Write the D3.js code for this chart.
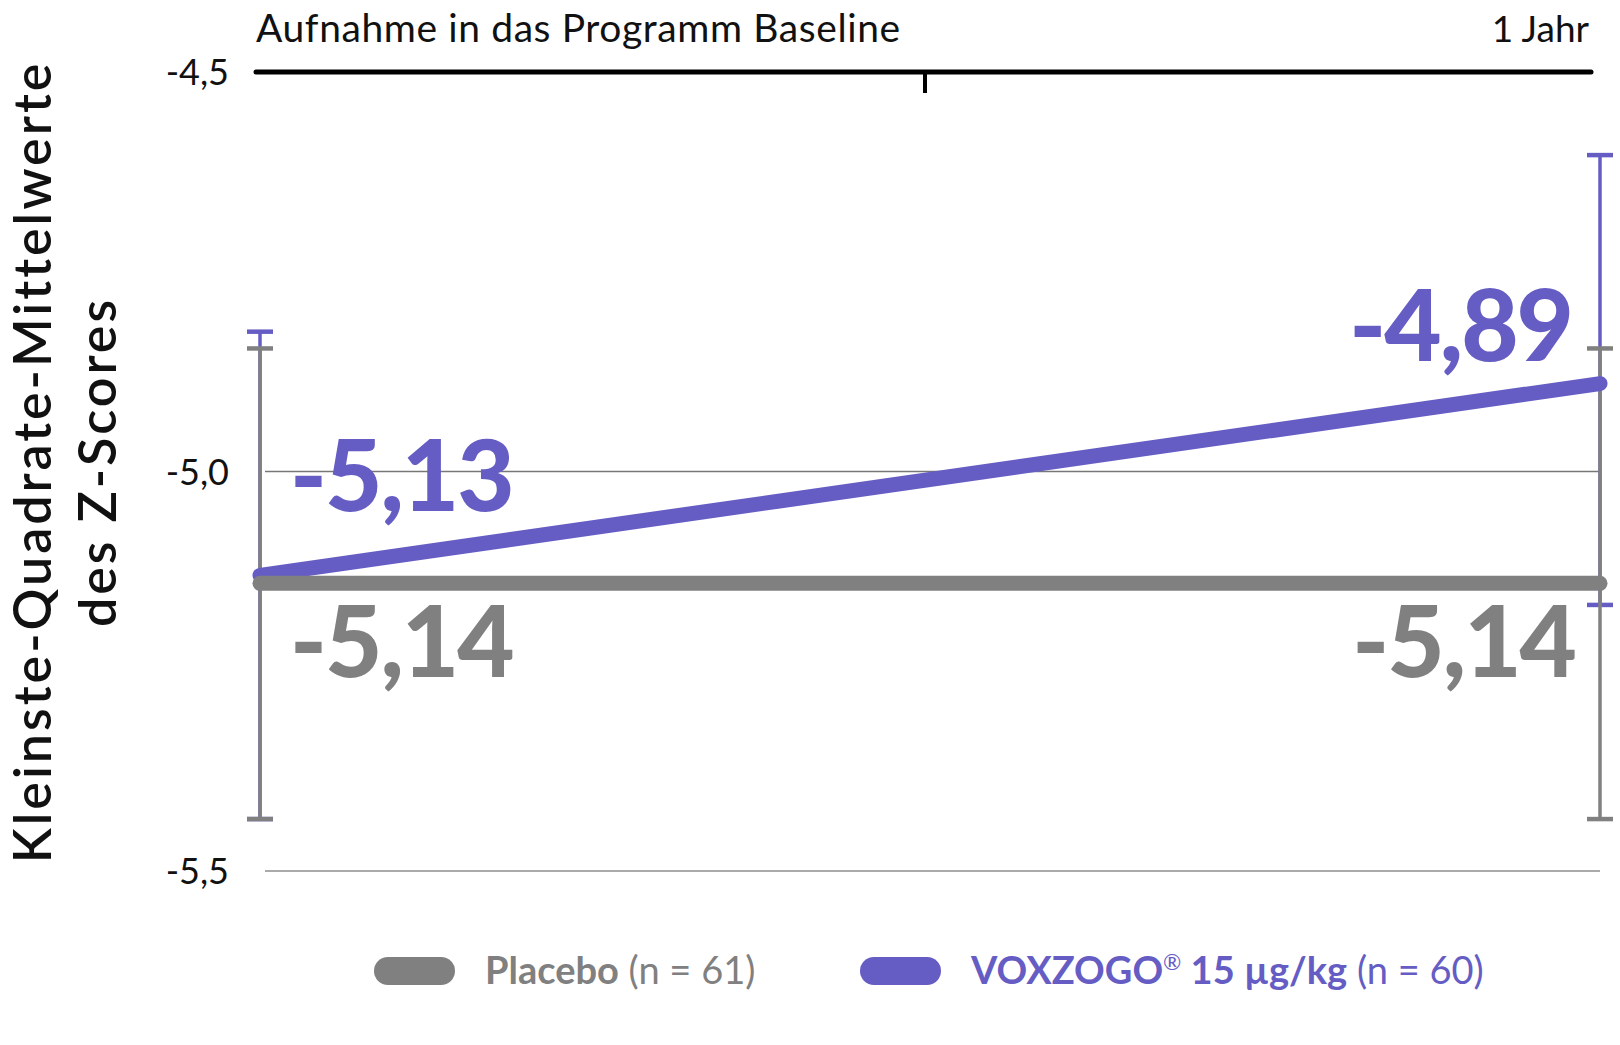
<!DOCTYPE html>
<html>
<head>
<meta charset="utf-8">
<script src="https://cdn.jsdelivr.net/npm/d3@7"></script>
<style>
  html, body { margin: 0; padding: 0; background: #fff; }
  svg text { font-family: Lato, "Open Sans", sans-serif; }
</style>
</head>
<body>
<div id="chart"></div>
<script>
// data
const timepoints = ["Aufnahme in das Programm Baseline", "1 Jahr"];
const seriesNames = ["Placebo", "VOXZOGO"];
const seriesDose = ["", " 15 µg/kg"];
const seriesN = ["(n = 61)", "(n = 60)"];
const placeboMeans = [-5.14, -5.14];
const voxzogoMeans = [-5.13, -4.89];
const placeboLow = [-5.435, -5.435];
const placeboHigh = [-4.846, -4.846];
const voxzogoLow = [-5.435, -5.167];
const voxzogoHigh = [-4.825, -4.604];
const yTicks = [-4.5, -5.0, -5.5];

const grey = "#808080";
const purple = "#655DC4";

const W = 1620, H = 1045;
const svg = d3.select("#chart").append("svg")
  .attr("width", W)
  .attr("height", H);

const x = d3.scalePoint().domain(timepoints).range([260, 1600]);
const y = d3.scaleLinear().domain([-4.5, -5.5]).range([72, 871]);
const fmt = v => d3.format(".1f")(v).replace(".", ",").replace("−", "-");
const fmt2 = v => d3.format(".2f")(v).replace(".", ",").replace("−", "-");

// y tick labels
const yAxis = d3.axisLeft(y).tickValues(yTicks).tickSize(0).tickPadding(0).tickFormat(fmt);
svg.append("g")
  .attr("transform", "translate(229,0)")
  .call(yAxis)
  .call(g => g.select(".domain").remove())
  .selectAll("text")
  .attr("font-size", 36)
  .attr("fill", "#111")
  .attr("dy", "0.36em");

// gridlines (-5,0 and -5,5)
svg.append("g").selectAll("line")
  .data(yTicks.slice(1))
  .enter().append("line")
  .attr("x1", 265).attr("x2", x(timepoints[1]))
  .attr("y1", d => y(d)).attr("y2", d => y(d))
  .attr("stroke", (d, i) => i === 0 ? "#777" : "#aaa")
  .attr("stroke-width", (d, i) => i === 0 ? 1.5 : 2);

// top axis at -4,5
const xl = x(timepoints[0]), xr = x(timepoints[1]);
svg.append("line")
  .attr("x1", xl - 4).attr("x2", xr - 9)
  .attr("y1", y(-4.5)).attr("y2", y(-4.5))
  .attr("stroke", "#000").attr("stroke-width", 5)
  .attr("stroke-linecap", "round");
svg.append("line")
  .attr("x1", (xl + xr) / 2 - 5).attr("x2", (xl + xr) / 2 - 5)
  .attr("y1", y(-4.5)).attr("y2", y(-4.5) + 21)
  .attr("stroke", "#000").attr("stroke-width", 4);
svg.append("text")
  .attr("x", xl - 4).attr("y", 42)
  .attr("font-size", 39).attr("letter-spacing", 0.6).attr("fill", "#111")
  .text(timepoints[0]);
svg.append("text")
  .attr("x", xr - 11).attr("y", 42)
  .attr("text-anchor", "end")
  .attr("font-size", 37).attr("fill", "#111")
  .text(timepoints[1]);

// error bars: purple under grey
function errorBars(low, high, color) {
  const g = svg.append("g").attr("stroke", color).attr("stroke-width", 3.5);
  timepoints.forEach((t, i) => {
    g.append("line")
      .attr("x1", x(t)).attr("x2", x(t))
      .attr("y1", y(high[i])).attr("y2", y(low[i]));
    [low[i], high[i]].forEach(v => {
      g.append("line")
        .attr("x1", x(t) - 13).attr("x2", x(t) + 13)
        .attr("y1", y(v)).attr("y2", y(v))
        .attr("stroke-width", 4.5);
    });
  });
}
errorBars(voxzogoLow, voxzogoHigh, purple);
errorBars(placeboLow, placeboHigh, grey);

// mean lines
const line = d3.line().x((d, i) => x(timepoints[i])).y(d => y(d));
svg.append("path")
  .datum(voxzogoMeans)
  .attr("d", line)
  .attr("fill", "none").attr("stroke", purple)
  .attr("stroke-width", 15).attr("stroke-linecap", "round");
svg.append("path")
  .datum(placeboMeans)
  .attr("d", line)
  .attr("fill", "none").attr("stroke", grey)
  .attr("stroke-width", 15).attr("stroke-linecap", "round");

// value labels
const big = svg.append("g")
  .attr("font-size", 99).attr("font-weight", 900)
  .attr("letter-spacing", -2);
big.append("text")
  .attr("x", xl + 30).attr("y", y(voxzogoMeans[0]) - 64)
  .attr("fill", purple).text(fmt2(voxzogoMeans[0]));
big.append("text")
  .attr("x", xl + 30).attr("y", y(placeboMeans[0]) + 94)
  .attr("fill", grey).text(fmt2(placeboMeans[0]));
big.append("text")
  .attr("x", xr - 28).attr("y", y(voxzogoMeans[1]) - 23)
  .attr("text-anchor", "end")
  .attr("fill", purple).text(fmt2(voxzogoMeans[1]));
big.append("text")
  .attr("x", xr - 25).attr("y", y(placeboMeans[1]) + 94)
  .attr("text-anchor", "end")
  .attr("fill", grey).text(fmt2(placeboMeans[1]));

// y title
svg.append("text")
  .attr("transform", "translate(51,462) rotate(-90)")
  .attr("text-anchor", "middle")
  .attr("font-size", 52).attr("font-weight", 600).attr("fill", "#111")
  .attr("letter-spacing", 3)
  .selectAll("tspan")
  .data(["Kleinste-Quadrate-Mittelwerte", "des Z-Scores"])
  .enter().append("tspan")
  .attr("x", 0).attr("dy", (d, i) => i === 0 ? 0 : 65)
  .text(d => d);

// legend
const legendX = [374, 860];
const colors = [grey, purple];
const leg = svg.append("g");
seriesNames.forEach((name, i) => {
  leg.append("rect")
    .attr("x", legendX[i]).attr("y", 957)
    .attr("width", 81).attr("height", 28).attr("rx", 14)
    .attr("fill", colors[i]);
  const t = leg.append("text")
    .attr("x", legendX[i] + 111).attr("y", 984)
    .attr("font-size", 38).attr("fill", colors[i]);
  t.append("tspan").attr("font-weight", 700).text(name);
  if (i === 1) {
    t.append("tspan").attr("font-weight", 400).attr("font-size", 22)
      .attr("dy", -14).text("®");
    t.append("tspan").attr("font-weight", 700).attr("dy", 14).text(seriesDose[i]);
  }
  t.append("tspan").attr("font-weight", 400).text(" " + seriesN[i]);
});
</script>
</body>
</html>
